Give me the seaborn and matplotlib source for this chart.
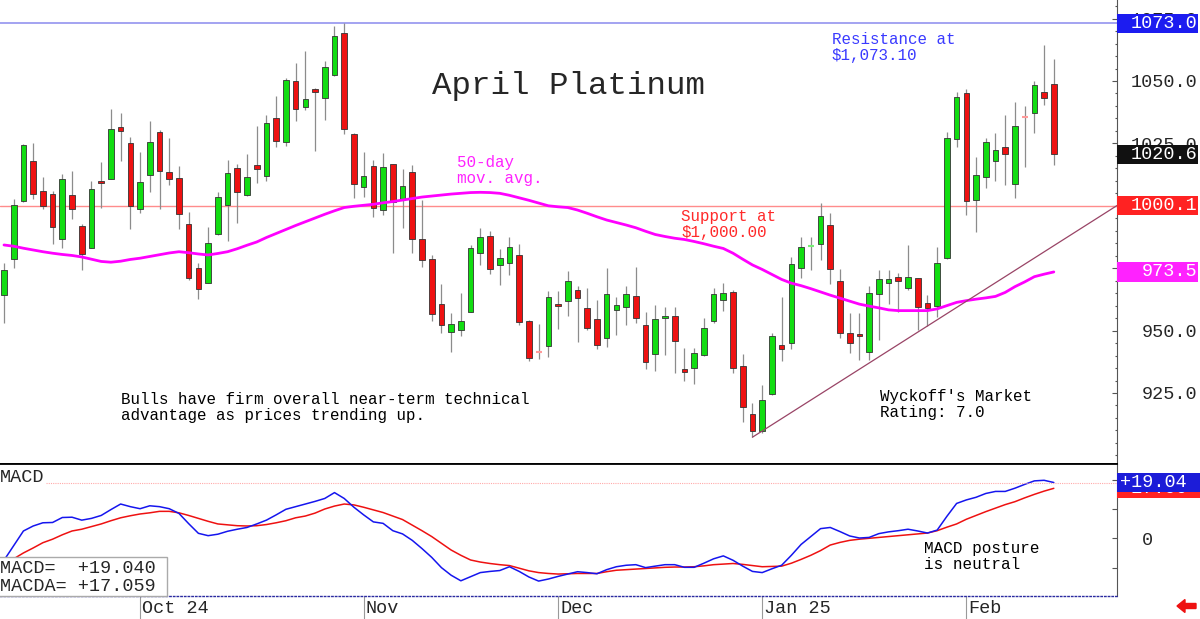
import numpy as np
import pandas as pd
import matplotlib
matplotlib.use("Agg")
import matplotlib.pyplot as plt
import matplotlib.transforms as mtransforms
from matplotlib.patches import Rectangle, FancyArrow
import seaborn as sns

sns.set_style("white")
plt.rcParams["font.family"] = ["Liberation Mono", "DejaVu Sans Mono"]

# ---------------------------------------------------------------
# daily candles, April platinum
# ---------------------------------------------------------------
opens = [964.1, 978.5, 1001.8, 1017.8, 1006.1, 1004.9, 986.8, 1004.2, 991.9, 983.2,
         1009.8, 1010.6, 1031.4, 1025.2, 998.8, 1012.5, 1029.6, 1013.5, 1011.3, 992.7,
         975.2, 969.1, 988.8, 1000.2, 1015.1, 1004.5, 1016.2, 1011.9, 1035.2, 1025.6,
         1050.1, 1039.7, 1046.8, 1043.3, 1052.5, 1069.4, 1028.8, 1007.7, 1015.9, 998.3,
         1016.7, 1002.2, 1013.5, 986.6, 978.8, 960.5, 949.6, 950.2, 957.6, 980.9,
         987.9, 976.1, 977.2, 980.2, 953.9, 941.7, 943.9, 960.7, 962.0, 966.3,
         959.1, 954.7, 947.0, 958.4, 959.3, 964.0, 952.3, 940.5, 955.2, 955.9,
         934.6, 935.0, 940.2, 953.7, 962.3, 965.5, 935.8, 916.5, 909.8, 924.5,
         944.4, 945.2, 975.1, 983.8, 984.7, 992.2, 970.0, 948.9, 948.6, 941.4,
         964.7, 968.9, 971.6, 967.1, 971.1, 961.2, 959.9, 978.9, 1026.9, 1045.1,
         1002.5, 1011.7, 1018.1, 1023.4, 1008.7, 1035.8, 1037.0, 1045.6, 1048.8]
highs = [976.9, 1002.6, 1024.8, 1025.3, 1011.7, 1005.8, 1012.6, 1013.9, 992.7, 1010.1,
         1017.6, 1038.6, 1037.3, 1027.7, 1021.6, 1034.1, 1030.4, 1027.0, 1015.9, 997.4,
         977.2, 991.4, 1005.4, 1018.2, 1016.7, 1020.8, 1031.8, 1036.4, 1044.0, 1051.2,
         1057.3, 1062.0, 1047.1, 1058.1, 1072.0, 1073.1, 1029.0, 1021.6, 1018.3, 1021.0,
         1016.7, 1014.6, 1016.5, 1002.3, 980.2, 968.7, 956.9, 964.9, 984.4, 991.1,
         990.0, 982.8, 987.4, 984.7, 954.2, 952.6, 966.0, 966.0, 974.0, 967.9,
         967.0, 962.3, 975.1, 963.6, 967.9, 975.4, 957.5, 960.4, 959.6, 959.6,
         943.0, 943.2, 955.2, 967.1, 969.2, 966.3, 940.6, 920.9, 928.2, 949.2,
         963.3, 979.4, 987.6, 987.4, 1001.3, 997.2, 974.8, 957.2, 956.9, 967.9,
         974.3, 974.3, 972.9, 984.4, 971.1, 964.1, 983.4, 1029.6, 1045.6, 1046.7,
         1019.4, 1027.2, 1029.3, 1036.4, 1041.6, 1040.0, 1049.9, 1064.3, 1058.7]
lows = [953.2, 974.9, 1001.5, 1002.9, 998.8, 984.7, 983.1, 994.6, 974.3, 983.2,
        999.2, 1010.6, 1018.1, 990.8, 997.0, 1005.4, 998.8, 1008.2, 990.6, 970.3,
        962.5, 969.1, 988.4, 985.9, 993.0, 1003.9, 1009.3, 1010.1, 1023.7, 1024.0,
        1034.1, 1038.4, 1022.0, 1034.4, 1052.0, 1028.8, 1003.1, 1003.4, 995.6, 996.3,
        980.9, 991.0, 980.9, 975.6, 953.9, 949.2, 941.3, 947.8, 957.6, 976.1,
        972.7, 968.1, 972.4, 952.4, 938.0, 938.5, 939.5, 950.5, 955.8, 945.3,
        950.2, 942.8, 943.6, 948.1, 952.4, 952.9, 934.6, 934.0, 940.4, 933.1,
        930.0, 928.6, 939.8, 952.9, 957.7, 933.1, 913.4, 907.3, 909.1, 924.1,
        938.0, 942.5, 970.9, 974.3, 978.3, 968.7, 947.0, 940.9, 938.2, 938.2,
        946.2, 960.6, 957.4, 966.3, 950.2, 951.8, 955.3, 978.6, 1023.4, 996.3,
        989.5, 1007.0, 1010.1, 1008.2, 1003.0, 1015.7, 1029.0, 1040.4, 1016.5]
closes = [974.3, 1000.2, 1024.4, 1004.7, 1000.0, 991.5, 1010.9, 998.8, 980.7, 1006.7,
          1009.3, 1030.8, 1030.1, 999.9, 1009.7, 1025.6, 1014.1, 1010.9, 996.7, 971.2,
          966.5, 984.9, 1003.4, 1013.3, 1005.4, 1011.7, 1014.9, 1033.3, 1025.8, 1050.4,
          1038.9, 1042.8, 1045.5, 1055.5, 1068.2, 1030.8, 1008.7, 1011.9, 999.2, 1015.7,
          1001.5, 1008.1, 986.8, 978.3, 956.6, 952.2, 952.6, 953.7, 983.1, 987.4,
          974.5, 979.1, 983.6, 953.4, 938.9, 941.5, 963.6, 960.0, 969.7, 963.2,
          951.2, 944.2, 964.5, 960.1, 964.5, 955.2, 937.3, 954.8, 955.9, 945.7,
          933.4, 940.9, 951.2, 964.5, 964.9, 935.0, 919.4, 909.9, 922.2, 948.0,
          942.5, 976.6, 983.4, 984.0, 996.0, 974.8, 948.9, 944.9, 947.8, 965.2,
          970.5, 970.5, 970.0, 971.6, 959.6, 959.2, 976.9, 1027.0, 1043.7, 1002.1,
          1012.2, 1025.4, 1022.4, 1020.8, 1032.1, 1035.6, 1048.3, 1043.2, 1020.6]

# 50-day moving average
ma50 = [984.3, 983.8, 983.0, 982.3, 981.6, 981.0, 980.5, 980.1, 979.5, 978.6,
        977.7, 977.4, 977.8, 978.5, 979.0, 979.7, 980.4, 981.1, 981.6, 981.2,
        980.7, 980.3, 980.9, 981.6, 982.8, 984.2, 985.5, 987.3, 988.9, 990.5,
        992.1, 993.6, 995.1, 996.6, 998.0, 999.3, 999.8, 1000.2, 1000.6, 1001.2,
        1001.7, 1002.3, 1002.9, 1003.5, 1003.9, 1004.3, 1004.7, 1005.0, 1005.3, 1005.4,
        1005.3, 1005.0, 1004.2, 1003.2, 1002.2, 1001.1, 1000.0, 999.6, 999.3, 998.3,
        997.0, 995.6, 994.3, 993.3, 992.3, 991.2, 989.8, 988.5, 987.7, 987.0,
        986.5, 985.7, 984.8, 983.8, 982.9, 981.0, 978.6, 976.3, 974.5, 972.5,
        970.5, 969.0, 968.0, 966.8, 965.5, 964.2, 963.0, 961.8, 960.6, 959.8,
        959.1, 958.3, 958.0, 958.0, 958.0, 958.0, 958.7, 960.0, 961.3, 962.0,
        962.6, 963.1, 963.7, 965.3, 967.6, 969.5, 971.6, 972.6, 973.5]

# MACD (blue) and its average MACDA (red)
macd = [-7.5, -2.5, 2.5, 4.2, 5.3, 5.4, 7.1, 7.2, 6.2, 6.8,
        7.8, 9.8, 11.7, 10.8, 10.1, 11.1, 10.8, 10.1, 8.5, 5.0,
        1.7, 0.9, 1.4, 2.4, 3.1, 3.7, 4.9, 6.2, 8.0, 9.9,
        10.8, 11.7, 12.6, 13.6, 15.6, 13.6, 10.6, 8.0, 5.6, 5.1,
        2.6, 1.5, -0.7, -3.5, -6.5, -10.0, -12.6, -14.5, -13.1, -11.7,
        -11.3, -11.0, -9.7, -11.3, -13.2, -14.6, -13.9, -13.0, -12.2, -11.4,
        -11.7, -12.1, -10.7, -9.7, -9.2, -9.0, -10.0, -9.5, -9.0, -9.0,
        -9.9, -9.9, -8.5, -7.0, -6.0, -7.5, -9.5, -11.3, -11.7, -10.4,
        -9.2, -5.8, -2.1, 0.6, 3.3, 3.7, 2.3, 0.8, 0.1, 0.3,
        1.6, 2.2, 2.6, 3.1, 2.5, 1.8, 2.8, 7.5, 11.9, 13.1,
        14.0, 15.3, 16.0, 16.0, 17.1, 18.4, 19.6, 19.8, 19.04]
macda = [-8.0, -7.0, -5.0, -3.3, -1.5, -0.3, 1.2, 2.5, 3.1, 4.0,
         4.9, 6.0, 7.0, 7.7, 8.3, 8.7, 9.2, 9.2, 8.7, 7.8,
         6.8, 5.8, 4.9, 4.6, 4.3, 4.2, 4.3, 4.7, 5.3, 6.0,
         7.0, 7.6, 8.6, 10.0, 11.0, 11.7, 11.4, 10.6, 9.7, 8.8,
         7.6, 6.4, 4.5, 2.6, 0.6, -1.7, -4.0, -5.8, -7.4, -8.1,
         -8.6, -9.0, -9.3, -10.2, -11.1, -11.7, -12.0, -12.2, -12.1, -12.0,
         -12.0, -12.0, -11.4, -10.9, -10.7, -10.5, -10.3, -10.1, -9.9, -9.8,
         -9.8, -9.7, -9.4, -9.0, -8.8, -8.6, -8.9, -9.3, -9.7, -9.6,
         -9.5, -8.5, -7.2, -5.8, -4.2, -2.3, -1.4, -0.7, -0.3, 0.0,
         0.3, 0.6, 0.9, 1.2, 1.5, 1.8, 2.6, 3.8, 4.9, 6.5,
         7.8, 9.1, 10.3, 11.5, 12.5, 13.8, 15.0, 16.1, 17.059]

holidays = ["2024-11-28", "2024-12-25", "2025-01-01", "2025-01-20"]
month_labels = ["Oct 24", "Nov", "Dec", "Jan 25", "Feb"]
price_ticks = [925, 950, 975, 1000, 1025, 1050, 1075]
macd_ticks = [-10, 0, 10, 20]
resistance = 1073.10
support = 1000.00
trend_x = [77, 114.5]
trend_y = [907.3, 1000.1]
box_values = [1073.0, 1020.6, 1000.1, 973.5]
box_colors = ["#1c1cf0", "#111111", "#ff2222", "#ff22ff"]

# ---------------------------------------------------------------
days = pd.bdate_range("2024-09-11", periods=len(closes), freq="C", holidays=holidays)
month_starts = [i for i in range(1, len(days)) if days[i].month != days[i - 1].month]

W, H = 1200, 619
def fx(px):
    return px / W
def fy(py):
    return 1 - py / H

fig = plt.figure(figsize=(12, 6.19), dpi=100)
ax = fig.add_axes([0, fy(464), fx(1117), 1 - fy(464)])
ax2 = fig.add_axes([0, fy(596), fx(1117), fy(464) - fy(596)])

idx = np.arange(len(closes))
o, h, l, c = map(np.array, (opens, highs, lows, closes))
up = c >= o
flat = np.abs(c - o) < 0.5
solid = ~flat

# support / resistance
ax.axhline(resistance, color="#8a8aee", lw=1.1, zorder=1)
ax.axhline(support, color="#ff8c8c", lw=1.0, zorder=1)

# candles
ax.vlines(idx, l, h, color="#8c8c8c", lw=0.9, zorder=2)
ax.bar(idx[solid], np.abs(c - o)[solid], bottom=np.minimum(o, c)[solid], width=0.58,
       color=np.where(up, "#11dd11", "#ee1111")[solid], edgecolor="#333333",
       linewidth=0.6, zorder=3)
ax.hlines(c[flat], idx[flat] - 0.3, idx[flat] + 0.3,
          colors=np.where(up, "#77ee77", "#ff9a9a")[flat], lw=1.5, zorder=3)

sns.lineplot(x=idx, y=ma50, ax=ax, color="#ff00ff", linewidth=2.0, zorder=4)
ax.plot(trend_x, trend_y, color="#994466", lw=0.9, zorder=4)

ax.set_xlim(-0.41, 114.5)
ax.set_ylim(896.55, 1082.45)
ax.set_xticks([])
ax.yaxis.tick_right()
ax.set_yticks(price_ticks)
ax.set_yticklabels([f"{v:.1f}" for v in price_ticks])
ax.set_yticks(np.arange(900, 1081, 5), minor=True)
ax.tick_params(axis="y", which="both", left=False, right=True, labelleft=False,
               labelright=True, direction="in", color="#555555", width=0.8)
ax.tick_params(axis="y", which="major", length=3.5, pad=57.6, labelsize=13.3)
ax.tick_params(axis="y", which="minor", length=1.6)
for t in ax.get_yticklabels():
    t.set_ha("right")
for s in ("top", "left"):
    ax.spines[s].set_visible(False)
ax.spines["right"].set_color("#555555")
ax.spines["right"].set_linewidth(0.8)
ax.spines["bottom"].set_color("black")
ax.spines["bottom"].set_linewidth(1.3)
ax.set_ylabel("")

# value boxes on the price scale (they sit over the regular tick labels)
bt = mtransforms.blended_transform_factory(ax.transAxes, ax.transData)
for v, col in zip(box_values, box_colors):
    ax.add_patch(Rectangle((1.0, v - 3.9), 81 / 1117, 7.8, transform=bt, facecolor=col,
                           edgecolor="none", clip_on=False, zorder=5))
    ax.text(1197 / 1117, v, f"{v:.1f}", transform=bt, ha="right", va="center",
            color="white", fontsize=13.3, clip_on=False, zorder=6)

# ---- MACD panel ----
sns.lineplot(x=idx, y=macda, ax=ax2, color="#ee1111", linewidth=1.1)
sns.lineplot(x=idx, y=macd, ax=ax2, color="#1515ee", linewidth=1.1)
ax2.axhline(macd[-1], xmin=46 / 1117, color="#ffaaaa", lw=0.8, ls=(0, (1, 1)))
ax2.set_xlim(-0.41, 114.5)
ax2.set_ylim(-19.69, 25.36)
ax2.yaxis.tick_right()
ax2.set_yticks(macd_ticks)
ax2.set_yticklabels(["0" if v == 0 else "" for v in macd_ticks])
ax2.tick_params(axis="y", left=False, right=True, labelleft=False, labelright=True,
                direction="in", length=3.5, width=0.8, color="#555555", pad=17.6,
                labelsize=13.3)
ax2.set_xticks(month_starts)
ax2.set_xticklabels([])
ax2.tick_params(axis="x", bottom=True, direction="out", length=16.6, width=0.8,
                color="#9a9a9a")
ax2.spines["left"].set_visible(False)
ax2.spines["top"].set_color("black")
ax2.spines["top"].set_linewidth(1.3)
ax2.spines["right"].set_color("#555555")
ax2.spines["right"].set_linewidth(0.8)
ax2.spines["bottom"].set_color("#2a2aa0")
ax2.spines["bottom"].set_linestyle(":")
ax2.spines["bottom"].set_linewidth(1.0)
ax2.set_xlabel("")
ax2.set_ylabel("")

# MACDA box first, MACD box stacked on top of it
bt2 = mtransforms.blended_transform_factory(ax2.transAxes, ax2.transData)
for k, (v, col) in enumerate(((macda[-1], "#ff2222"), (macd[-1], "#1c1cd8"))):
    ax2.add_patch(Rectangle((1.0, v - 3.33), 83 / 1117, 6.66, transform=bt2,
                            facecolor=col, edgecolor="none", clip_on=False,
                            zorder=5 + 2 * k))
    ax2.text(1120 / 1117, v, f"{v:+.2f}", transform=bt2, ha="left", va="center",
             color="white", fontsize=13.3, clip_on=False, zorder=6 + 2 * k)

tx = mtransforms.blended_transform_factory(ax2.transData, ax2.transAxes)
for i, lab in zip(month_starts, month_labels):
    ax2.text(i + 0.2, (596 - 613.3) / 132, lab, transform=tx, va="baseline",
             fontsize=13.3, clip_on=False)

ax2.text(0, (596 - 481.7) / 132, "MACD", transform=ax2.transAxes, va="baseline",
         fontsize=13.3, zorder=6,
         bbox=dict(facecolor="white", edgecolor="none", pad=1))
ax2.add_patch(Rectangle((-0.002, 0), 169 / 1117, 39 / 132, transform=ax2.transAxes,
                        facecolor="white", edgecolor="#aaaaaa", lw=1.0, zorder=5,
                        clip_on=False))
ax2.text(0, (596 - 572.7) / 132, f"MACD=  {macd[-1]:+.3f}", transform=ax2.transAxes,
         va="baseline", fontsize=13.3, zorder=6)
ax2.text(0, (596 - 591) / 132, f"MACDA= {macda[-1]:+.3f}", transform=ax2.transAxes,
         va="baseline", fontsize=13.3, zorder=6)

# ---- text notes ----
fig.text(fx(432), fy(94.3), "April Platinum", fontsize=23.4, va="baseline")

def note(x, y, lines, color="black", size=11.4, step=16):
    for k, s in enumerate(lines):
        fig.text(fx(x), fy(y + k * step), s, color=color, fontsize=size, va="baseline")

note(832, 44.3, ["Resistance at", "$1,073.10"], color="#3a3aff")
note(457, 166.7, ["50-day", "mov. avg."], color="#ff22ff")
note(681, 220.7, ["Support at", "$1,000.00"], color="#ff2a2a")
note(121, 404, ["Bulls have firm overall near-term technical",
                "advantage as prices trending up."])
note(880, 400.7, ["Wyckoff's Market", "Rating: 7.0"])
note(924, 553.3, ["MACD posture", "is neutral"], size=11.5)

fig.add_artist(FancyArrow(11.96, 0.13, -0.19, 0, width=0.05, head_width=0.13,
                          head_length=0.08, length_includes_head=True,
                          color="#ee1111", transform=fig.dpi_scale_trans))

fig.savefig("out.png", dpi=100)
